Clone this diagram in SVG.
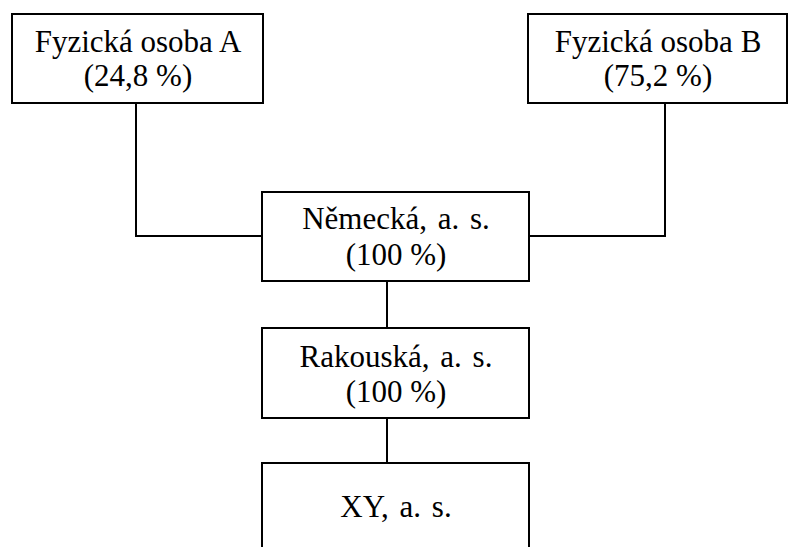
<svg xmlns="http://www.w3.org/2000/svg" width="789" height="547" viewBox="0 0 789 547">
<style>
.box{fill:#fff;stroke:#000;stroke-width:2}
.ln{fill:none;stroke:#000;stroke-width:2}
.t{font-family:"Liberation Serif","Times New Roman","DejaVu Serif",serif;font-size:31px;fill:#000;text-anchor:middle}
.w{word-spacing:3px}
</style>
<rect width="789" height="547" fill="#fff"/>
<g id="connectors">
<polyline class="ln" points="136,103 136,236 262,236"/>
<polyline class="ln" points="665,103 665,236 529,236"/>
<line class="ln" x1="387" y1="281" x2="387" y2="328"/>
<line class="ln" x1="387" y1="418" x2="387" y2="463"/>
</g>
<g id="nodeA">
<rect class="box" x="12" y="14" width="251" height="89"/>
<text class="t" x="138" y="52">Fyzická osoba A</text>
<text class="t" x="138" y="86">(24,8 %)</text>
</g>
<g id="nodeB">
<rect class="box" x="528" y="14" width="259" height="89"/>
<text class="t" x="658" y="52">Fyzická osoba B</text>
<text class="t" x="658" y="86">(75,2 %)</text>
</g>
<g id="nemecka">
<rect class="box" x="262" y="192" width="267" height="89"/>
<text class="t w" x="396" y="229">Německá, a. s.</text>
<text class="t" x="396" y="265">(100 %)</text>
</g>
<g id="rakouska">
<rect class="box" x="262" y="328" width="267" height="90"/>
<text class="t w" x="396" y="367">Rakouská, a. s.</text>
<text class="t" x="396" y="402">(100 %)</text>
</g>
<g id="xy">
<rect class="box" x="262" y="463" width="267" height="100"/>
<text class="t w" x="396" y="517">XY, a. s.</text>
</g>
</svg>
